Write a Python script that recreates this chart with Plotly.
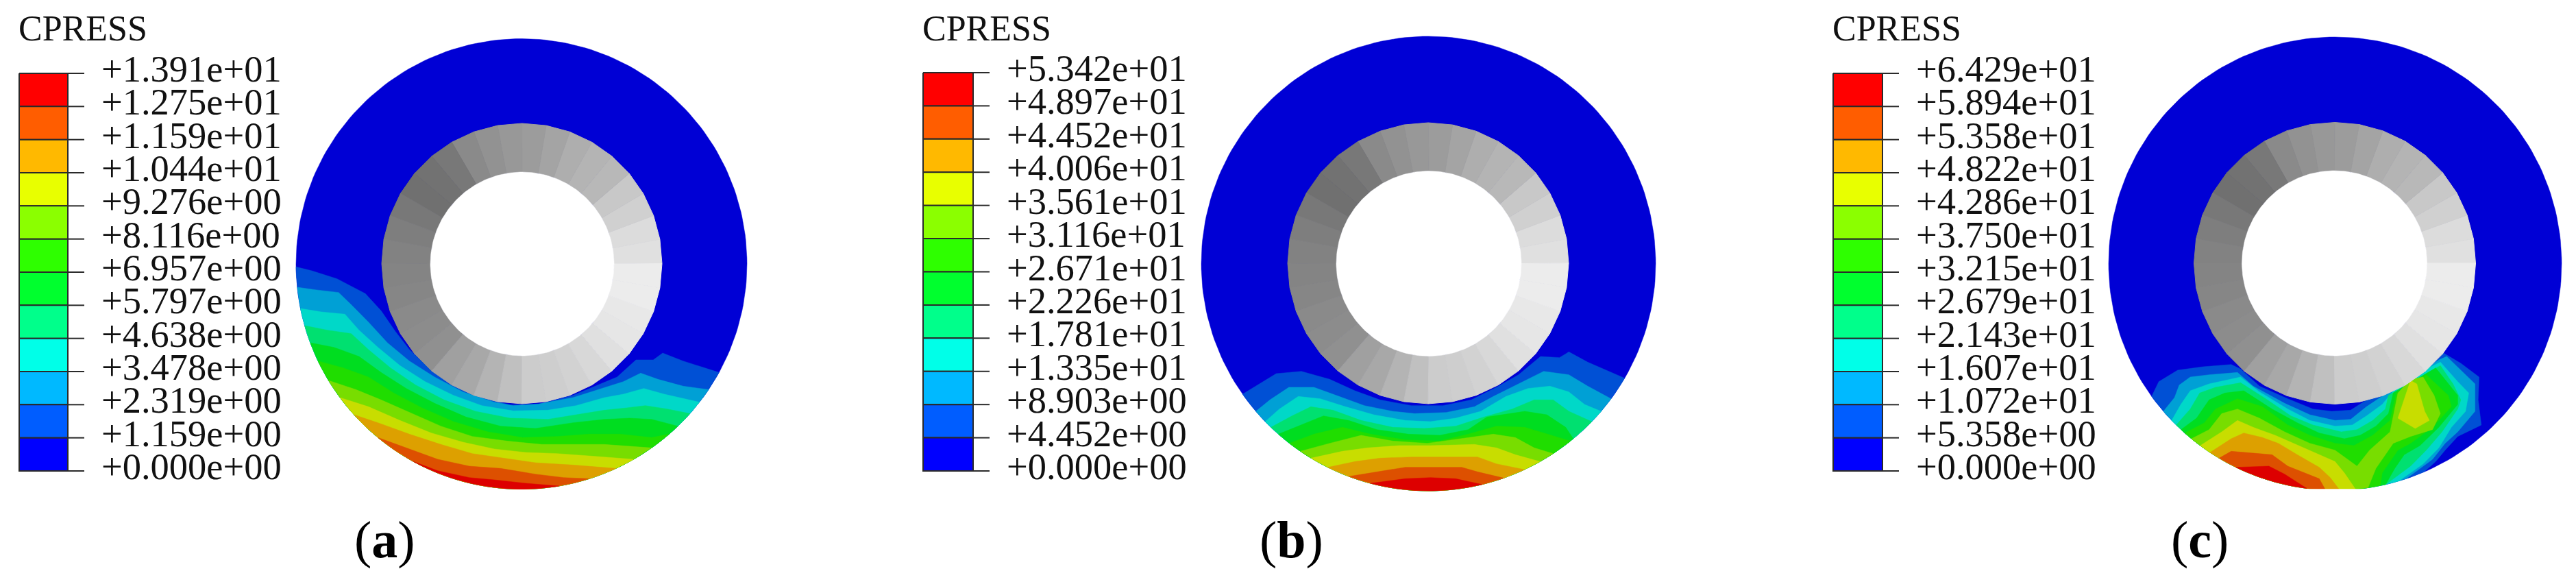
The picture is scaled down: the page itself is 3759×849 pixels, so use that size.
import math
import plotly.graph_objects as go

TITLE = "CPRESS"
LABELS_A = ["+1.391e+01","+1.275e+01","+1.159e+01","+1.044e+01","+9.276e+00","+8.116e+00","+6.957e+00",
            "+5.797e+00","+4.638e+00","+3.478e+00","+2.319e+00","+1.159e+00","+0.000e+00"]
LABELS_B = ["+5.342e+01","+4.897e+01","+4.452e+01","+4.006e+01","+3.561e+01","+3.116e+01","+2.671e+01",
            "+2.226e+01","+1.781e+01","+1.335e+01","+8.903e+00","+4.452e+00","+0.000e+00"]
LABELS_C = ["+6.429e+01","+5.894e+01","+5.358e+01","+4.822e+01","+4.286e+01","+3.750e+01","+3.215e+01",
            "+2.679e+01","+2.143e+01","+1.607e+01","+1.072e+01","+5.358e+00","+0.000e+00"]

LEGEND_COLORS = ["#ff0000","#ff5d00","#ffb900","#e8ff00","#8bff00","#2eff00","#00ff2e","#00ff8b",
                 "#00ffe8","#00b9ff","#005dff","#0000ff"]
BAND_COLORS = ["#0000d5","#0050d5","#00a0d5","#00d8c8","#00e070","#00dd20","#20dd00","#78dd00",
               "#c8dd00","#dda000","#dd5000","#dd0000"]
RING_GREYS = ["e0","dc","d0","c8","b8","b4","ae","a4","9c","98","92","8a","78","72","70","78","7e","82",
              "84","86","8a","8c","90","a0","a8","b4","c0","cc","ce","d2","d8","e0","e6","e8","ec","ec"]

# Iso-pressure lines, lowest level first (crop units)
LINES_A = [
 [(68,118),(120,135),(200,170),(290,235),(340,310),(385,400),(430,480),(480,545),(560,620),(650,685),(750,722),(840,720),(950,680),(1040,630),(1090,600),(1150,525),(1205,525),(1235,495),(1300,530),(1410,580)],
 [(75,207),(130,218),(205,230),(250,290),(300,360),(360,450),(430,530),(510,600),(600,665),(700,710),(760,725),(840,718),(950,690),(1050,645),(1110,620),(1165,583),(1220,610),(1300,640),(1378,655)],
 [(83,300),(150,315),(225,325),(270,395),(330,470),(400,550),(480,620),(570,680),(660,725),(760,748),(870,745),(960,725),(1050,690),(1110,675),(1175,650),(1240,675),(1345,710)],
 [(100,375),(170,395),(245,410),(300,480),(370,560),(450,635),(540,700),(640,750),(750,780),(870,785),(960,765),(1050,745),(1120,735),(1180,725),(1250,740),(1310,760)],
 [(115,450),(190,470),(270,510),(340,580),(420,650),(510,715),(610,775),(720,815),(830,825),(950,800),(1050,785),(1130,780),(1200,785),(1285,815)],
 [(145,530),(220,560),(300,600),(380,670),(470,735),(570,795),(680,840),(790,865),(900,860),(1000,850),(1100,850),(1200,865),(1250,850)],
 [(175,615),(260,655),(340,700),(430,755),(530,815),(630,860),(740,880),(850,895),(950,895),(1050,895),(1180,910)],
 [(215,690),(300,730),(400,790),(500,845),(600,885),(700,915),(800,930),(900,935),(1000,945),(1135,960)],
 [(250,765),(330,800),(430,850),(530,895),(630,935),(730,955),(830,975),(950,985),(1070,1000)],
 [(330,865),(420,910),(520,960),(620,990),(720,1000),(830,1025),(920,1040),(1010,1045)],
 [(440,970),(520,1010),(620,1040),(700,1050),(800,1065),(905,1075)],
]
LINES_B = [
 [(215,375),(255,330),(310,285),(390,275),(480,310),(560,360),(640,400),(740,425),(840,425),(930,400),(1010,345),(1080,290),(1150,210),(1210,215),(1240,190),(1300,235),(1410,305)],
 [(250,450),(290,400),(350,345),(430,345),(510,385),(590,425),(680,450),(750,460),(850,455),(940,430),(1000,385),(1080,330),(1160,275),(1240,290),(1300,340),(1365,395)],
 [(280,495),(320,440),(380,385),(450,395),(530,430),(620,465),(720,490),(800,495),(880,480),(960,450),(1040,385),(1110,350),(1180,340),(1240,365),(1290,420),(1335,450)],
 [(305,520),(360,470),(420,430),(490,445),(580,490),(680,520),(780,525),(880,515),(970,475),(1060,440),(1130,400),(1190,400),(1240,450),(1310,495)],
 [(330,550),(390,510),(460,470),(540,490),(630,530),(730,550),(830,555),(920,530),(980,475),(1100,450),(1170,465),(1230,520),(1280,570)],
 [(365,590),(430,550),(520,520),(610,550),(720,575),(830,580),(920,550),(1010,515),(1100,520),(1170,550),(1240,580)],
 [(400,625),(480,590),(580,555),(680,580),(790,590),(900,570),(1000,550),(1070,565),(1130,610),(1185,635)],
 [(440,655),(520,625),(600,610),(700,600),(800,600),(940,595),(1010,610),(1070,640),(1130,670)],
 [(495,695),(560,670),(640,655),(740,650),(850,650),(950,650),(1010,680),(1075,705)],
 [(550,735),(630,715),(720,695),(810,695),(900,695),(950,715),(1020,742)],
 [(635,765),(720,745),(800,740),(880,745),(925,770)],
]
LINES_C = [
 [(225,385),(240,320),(300,270),(380,255),(470,245),(500,265),(560,340),(650,395),(730,440),(790,450),(850,445),(895,405),(950,350),(1100,260),(1145,195),(1200,240),(1258,300),(1255,400),(1265,510),(1190,560),(1150,620),(1120,670),(1086,715)],
 [(265,450),(290,390),(305,335),(340,300),(400,290),(490,280),(540,340),(640,415),(720,465),(800,490),(850,485),(900,430),(960,375),(1130,225),(1155,210),(1245,330),(1245,450),(1190,540),(1150,590),(1110,660),(1040,745)],
 [(285,490),(310,420),(340,360),(400,330),(500,300),(560,365),(650,440),(720,490),(800,515),(855,510),(900,470),(950,420),(1010,320),(1135,235),(1190,320),(1225,370),(1215,450),(1170,520),(1130,610),(1080,680),(1010,755)],
 [(305,510),(340,440),(370,370),(420,345),(500,325),(580,395),(660,470),(730,510),(820,540),(870,530),(920,490),(960,440),(970,380),(1135,250),(1175,330),(1200,400),(1190,440),(1140,540),(1090,620),(1040,690),(975,770)],
 [(325,530),(360,480),(400,400),(450,370),(510,360),(600,440),(680,500),(750,545),(830,570),(880,555),(930,515),(970,460),(985,370),(1120,260),(1190,380),(1190,420),(1130,520),(1070,600),(1020,640),(990,700),(945,770)],
 [(340,545),(385,500),(420,440),(490,395),(570,430),(650,510),(720,555),(800,590),(860,600),(920,555),(975,490),(995,370),(1090,290),(1160,380),(1170,430),(1110,520),(1040,590),(1000,620),(950,720),(925,775)],
 [(355,570),(400,530),(440,460),(490,440),(560,480),(640,540),(720,590),(800,620),(870,690),(910,620),(975,540),(1000,370),(1040,310),(1080,300),(1115,380),(1135,460),(1110,530),(1040,560),(985,590),(930,700),(905,785)],
 [(375,600),(440,540),(490,490),(540,520),(610,555),(700,610),(800,670),(830,720),(865,785)],
 [(410,630),(470,570),(510,545),(570,565),(620,590),(680,640),(750,695),(785,740),(815,785)],
 [(440,655),(470,625),(600,640),(650,690),(750,745),(770,790)],
 [(490,695),(590,690),(640,725),(710,790)],
]
ISLAND_C = [(1040,315),(1000,480),(1055,525),(1100,490),(1085,450),(1060,330)]

PANELS = [
 dict(labels=LABELS_A, lines=LINES_A, crop=(400,350), disk=(761,385,329,328.5), ring=(761.5,384.5,204.5), hole=(762,385,134),
      bar=(28,99,107,687), caption=("a",561), islands=[], flat=None),
 dict(labels=LABELS_B, lines=LINES_B, crop=(1720,450), disk=(2084.5,384.5,331.5,331.5), ring=(2084,384,205), hole=(2085,384.5,135),
      bar=(1347,1420,106,687), caption=("b",1884), islands=[], flat=None),
 dict(labels=LABELS_C, lines=LINES_C, crop=(3040,450), disk=(3407.5,384.5,330.5,330.5), ring=(3407,384,205.5), hole=(3406.5,384,135),
      bar=(2675,2747,107,687), caption=("c",3210), islands=[(8,ISLAND_C)], flat=713.5),
]
SX, SY = 2.178, 3.0
FONT = "Liberation Serif"

fig = go.Figure()

def poly(xs, ys, color, line=None, width=1):
    fig.add_trace(go.Scatter(x=xs, y=ys, mode="lines", fill="toself", fillcolor=color,
                             line=dict(color=line or color, width=width), hoverinfo="skip", showlegend=False))

def ellipse(cx, cy, rx, ry, color):
    n = 240
    poly([cx+rx*math.cos(2*math.pi*i/n) for i in range(n+1)],
         [cy+ry*math.sin(2*math.pi*i/n) for i in range(n+1)], color, width=0.5)

def edge_angle(pt, cx, cy, rx, ry):
    """Angle on the disk edge where a line that ends at pt meets it."""
    u, v = (pt[0]-cx)/rx, (pt[1]-cy)/ry
    if abs(v) > 0.98:
        return math.atan2(v, u) % (2*math.pi)
    s = math.asin(v)
    return (s if u > 0 else math.pi - s) % (2*math.pi)

annotations = []
for p in PANELS:
    cx, cy, rx, ry = p["disk"]
    ox, oy = p["crop"]
    ellipse(cx, cy, rx, ry, BAND_COLORS[0])
    shapes_by_level = [(i+1, ln, False) for i, ln in enumerate(p["lines"])]
    shapes_by_level += [(lv, pts, True) for lv, pts in p["islands"]]
    for lv, pts, closed in shapes_by_level:
        xy = [(ox+a/SX, oy+b/SY) for a, b in pts]
        if not closed:
            t0 = edge_angle(xy[0], cx, cy, rx, ry)
            t1 = edge_angle(xy[-1], cx, cy, rx, ry)
            xy[0] = (cx+rx*math.cos(t0), cy+ry*math.sin(t0))
            xy[-1] = (cx+rx*math.cos(t1), cy+ry*math.sin(t1))
            n = 60
            arc = [t1+(t0-t1)*i/n for i in range(1, n)]
            xy += [(cx+rx*math.cos(t), cy+ry*math.sin(t)) for t in arc]
        xy.append(xy[0])
        poly([q[0] for q in xy], [q[1] for q in xy], BAND_COLORS[lv], width=0.5)
    if p["flat"]:
        poly([cx-rx, cx+rx, cx+rx, cx-rx, cx-rx], [p["flat"], p["flat"], cy+ry+4, cy+ry+4, p["flat"]], "#ffffff", width=0.5)

    # ring facets
    rcx, rcy, rr = p["ring"]
    hcx, hcy, hr = p["hole"]
    for i, g in enumerate(RING_GREYS):
        a0, a1 = math.radians(10*i), math.radians(10*(i+1))
        xs = [rcx+rr*math.cos(a0), rcx+rr*math.cos(a1), hcx+hr*math.cos(a1), hcx+hr*math.cos(a0), rcx+rr*math.cos(a0)]
        ys = [rcy-rr*math.sin(a0), rcy-rr*math.sin(a1), hcy-hr*math.sin(a1), hcy-hr*math.sin(a0), rcy-rr*math.sin(a0)]
        poly(xs, ys, "#"+g*3, width=1)
    ellipse(hcx, hcy, hr, hr, "#ffffff")

    # legend
    x0, x1, y0, y1 = p["bar"]
    step = (y1-y0)/12
    for i, c in enumerate(LEGEND_COLORS):
        poly([x0,x1,x1,x0,x0], [y0+i*step,y0+i*step,y0+(i+1)*step,y0+(i+1)*step,y0+i*step], c, line="#2a2a2a", width=2)
    tx, ty = [], []
    for i in range(13):
        tx += [x1, x1+24, None]
        ty += [y0+i*step, y0+i*step, None]
        annotations.append(dict(x=x1+47, y=y0+i*step-6.5, text=p["labels"][i], xanchor="left", yanchor="middle",
                                showarrow=False, font=dict(family=FONT, size=54.5, color="#111111"),
                                xref="x", yref="y"))
    fig.add_trace(go.Scatter(x=tx, y=ty, mode="lines", line=dict(color="#2a2a2a", width=2),
                             hoverinfo="skip", showlegend=False))
    annotations.append(dict(x=x0-3, y=41, text=TITLE, xanchor="left", yanchor="middle", showarrow=False,
                            font=dict(family=FONT, size=52, color="#111111"), xref="x", yref="y"))
    letter, capx = p["caption"]
    annotations.append(dict(x=capx, y=787, text=f"(<b>{letter}</b>)", xanchor="center", yanchor="middle", showarrow=False,
                            font=dict(family=FONT, size=76, color="#000000"), xref="x", yref="y"))

fig.update_layout(width=3759, height=849, autosize=False, margin=dict(l=0,r=0,t=0,b=0),
                  paper_bgcolor="white", plot_bgcolor="white", annotations=annotations,
                  xaxis=dict(range=[0,3759], visible=False, fixedrange=True),
                  yaxis=dict(range=[849,0], visible=False, fixedrange=True))
fig.write_html("out.html", config=dict(displayModeBar=False),
               post_script="document.body.style.margin='0';document.body.style.overflow='hidden';")
